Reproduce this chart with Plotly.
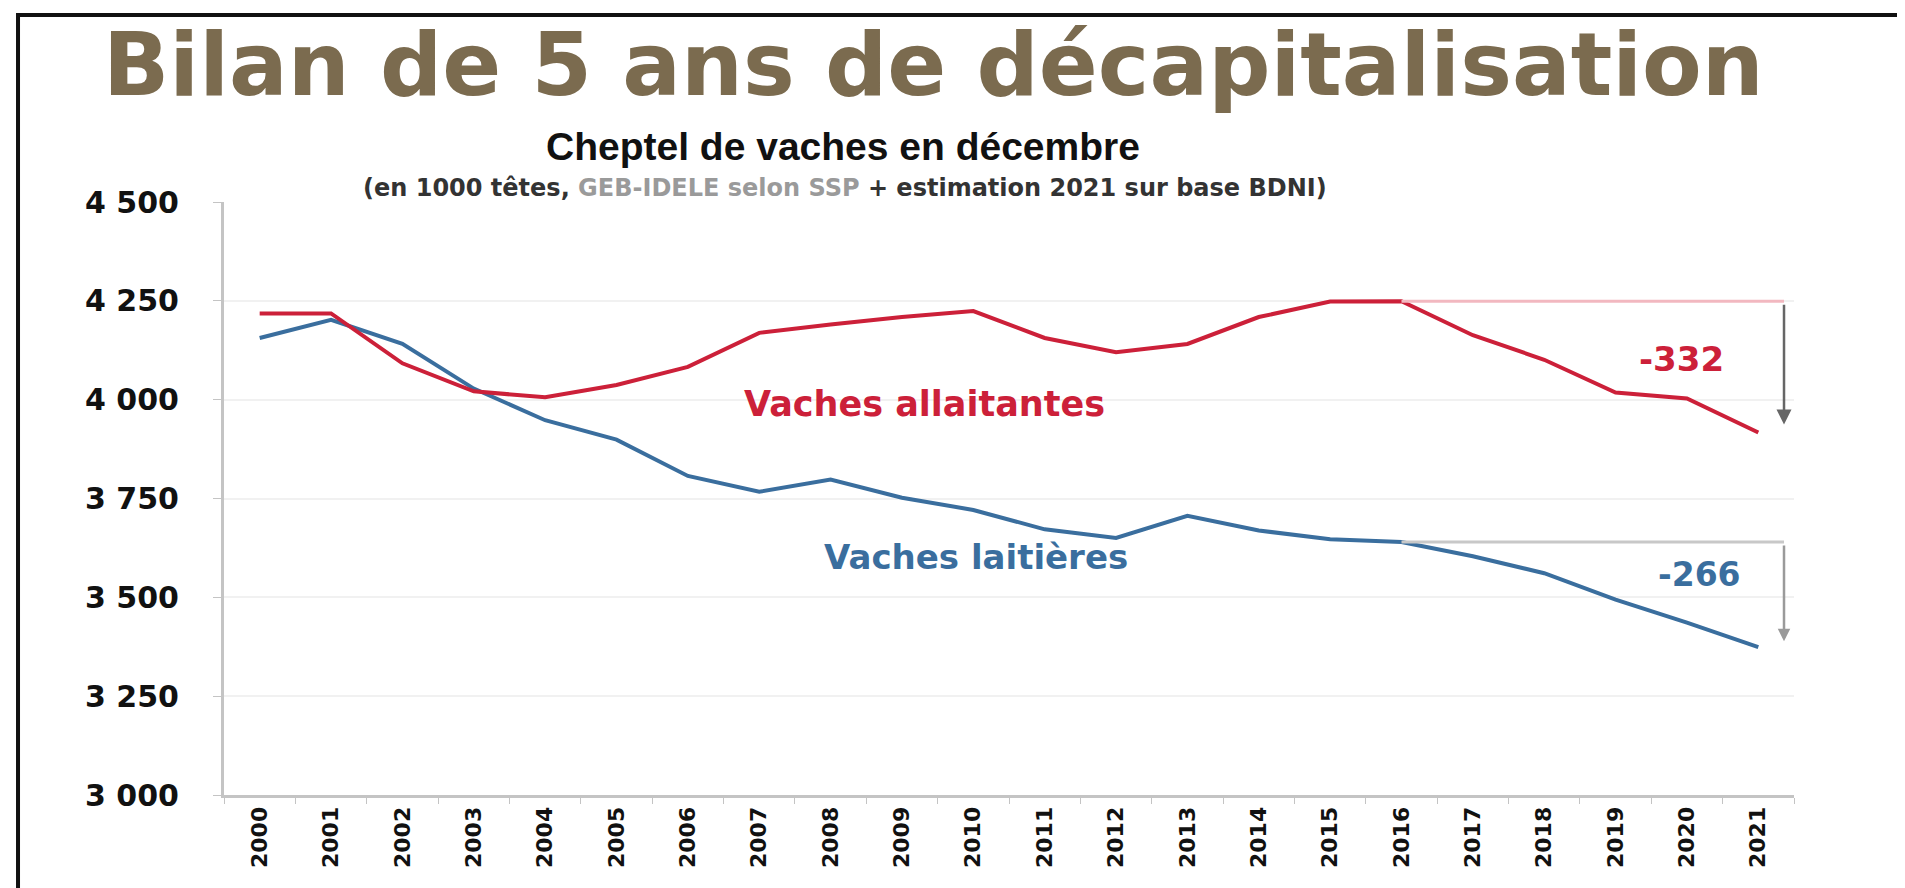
import plotly.graph_objects as go

years = [str(y) for y in range(2000, 2022)]
vaches_allaitantes = [4218, 4218, 4092, 4021, 4006, 4037, 4083, 4169, 4190, 4209, 4224,
                      4156, 4120, 4141, 4209, 4248, 4249, 4163, 4101, 4018, 4003, 3917]
vaches_laitieres = [4156, 4202, 4141, 4028, 3948, 3899, 3807, 3767, 3798, 3752, 3721,
                    3672, 3650, 3706, 3669, 3647, 3640, 3604, 3561, 3494, 3436, 3374]
y_tickvals = [3000, 3250, 3500, 3750, 4000, 4250, 4500]
y_ticktext = ["3 000", "3 250", "3 500", "3 750", "4 000", "4 250", "4 500"]
label_allaitantes = "Vaches allaitantes"
label_laitieres = "Vaches laitières"
delta_allaitantes = "-332"
delta_laitieres = "-266"
title_main = "Bilan de 5 ans de décapitalisation"
title_chart = "Cheptel de vaches en décembre"

RED = "#cc2039"
BLUE = "#3a6e9e"

fig = go.Figure()
fig.add_trace(go.Scatter(x=years, y=vaches_laitieres, mode="lines",
                         line=dict(color=BLUE, width=4), showlegend=False))
fig.add_trace(go.Scatter(x=years, y=vaches_allaitantes, mode="lines",
                         line=dict(color=RED, width=4), showlegend=False))

i_ref, i_end = 16, 21
x_br = 21.36

# brackets
fig.add_shape(type="line", xref="x", yref="y", x0=i_ref, x1=x_br,
              y0=vaches_allaitantes[i_ref], y1=vaches_allaitantes[i_ref],
              line=dict(color="#f2b8c0", width=3))
fig.add_shape(type="line", xref="x", yref="y", x0=i_ref, x1=x_br,
              y0=vaches_laitieres[i_ref], y1=vaches_laitieres[i_ref],
              line=dict(color="#c8c8c8", width=3))
fig.add_annotation(x=x_br, y=vaches_allaitantes[i_end] + 20, ax=x_br, ay=vaches_allaitantes[i_ref] - 5,
                   xref="x", yref="y", axref="x", ayref="y", text="", showarrow=True,
                   arrowhead=2, arrowsize=1.2, arrowwidth=2.5, arrowcolor="#666666")
fig.add_annotation(x=x_br, y=vaches_laitieres[i_end] + 15, ax=x_br, ay=vaches_laitieres[i_ref] - 5,
                   xref="x", yref="y", axref="x", ayref="y", text="", showarrow=True,
                   arrowhead=2, arrowsize=1.0, arrowwidth=2.5, arrowcolor="#9a9a9a")

lab_font = "DejaVu Sans"
fig.add_annotation(x=9.31, y=3989, xref="x", yref="y", text=label_allaitantes, showarrow=False,
                   font=dict(family=lab_font, size=35, color=RED, weight="bold"))
fig.add_annotation(x=10.04, y=3602, xref="x", yref="y", text=label_laitieres, showarrow=False,
                   font=dict(family=lab_font, size=34, color=BLUE, weight="bold"))
fig.add_annotation(x=19.93, y=4103, xref="x", yref="y", text=delta_allaitantes, showarrow=False,
                   font=dict(family=lab_font, size=34, color=RED, weight="bold"))
fig.add_annotation(x=20.17, y=3559, xref="x", yref="y", text=delta_laitieres, showarrow=False,
                   font=dict(family=lab_font, size=33, color=BLUE, weight="bold"))

# titles
fig.add_annotation(x=0.4516, y=1.2310, xref="paper", yref="paper", text=title_main, showarrow=False,
                   xanchor="center", yanchor="middle",
                   font=dict(family="DejaVu Sans", size=87, color="#7b6b4f", weight="bold"))
fig.add_annotation(x=0.394, y=1.0944, xref="paper", yref="paper", text=title_chart, showarrow=False,
                   xanchor="center", yanchor="middle",
                   font=dict(family="Liberation Sans", size=39, color="#111111", weight="bold"))
fig.add_annotation(x=0.3955, y=1.0236, xref="paper", yref="paper",
                   text="(en 1000 têtes, <span style='color:#9a9a9a'>GEB-IDELE selon SSP</span> + estimation 2021 sur base BDNI)",
                   showarrow=False, xanchor="center", yanchor="middle",
                   font=dict(family="DejaVu Sans", size=24, color="#333333", weight="bold"))

# frame
fig.add_shape(type="rect", xref="paper", yref="paper", x0=-0.1312, x1=1.0726, y0=-0.1620, y1=1.3153,
              line=dict(color="#111111", width=4), fillcolor="rgba(0,0,0,0)", layer="below")

fig.update_xaxes(type="category", showline=True, linecolor="#c4c4c4", linewidth=3,
                 ticks="outside", tickson="boundaries", ticklen=6, tickcolor="#c4c4c4",
                 tickangle=-90, showgrid=False, range=[-0.5, 21.5],
                 tickfont=dict(family="DejaVu Sans", size=22, color="#111111", weight="bold"))
fig.update_yaxes(range=[3000, 4500], tickvals=y_tickvals, ticktext=y_ticktext,
                 showline=True, linecolor="#c4c4c4", linewidth=3, ticks="outside", ticklen=8,
                 tickcolor="#c4c4c4", showgrid=True, gridcolor="#f1f1f1", gridwidth=2,
                 zeroline=False, ticklabelstandoff=28,
                 tickfont=dict(family="DejaVu Sans", size=30, color="#111111", weight="bold"))

fig.update_layout(width=1905, height=888, margin=dict(l=216, r=119, t=194, b=101),
                  paper_bgcolor="white", plot_bgcolor="white", showlegend=False)

fig.write_html("out.html")
